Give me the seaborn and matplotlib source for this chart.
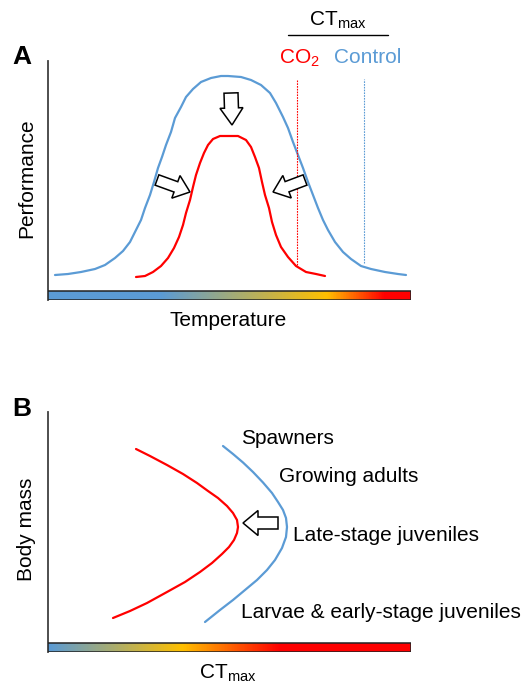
import numpy as np
import pandas as pd
import seaborn as sns
import matplotlib.pyplot as plt
from matplotlib.colors import LinearSegmentedColormap
from matplotlib.patches import FancyArrow, Rectangle

sns.set_theme(style="white")
plt.rcParams["font.family"] = ["Liberation Sans", "DejaVu Sans"]
plt.rcParams["mathtext.fontset"] = "custom"
plt.rcParams["mathtext.rm"] = "Liberation Sans"
plt.rcParams["text.color"] = "black"

BLUE = "#5B9BD5"
RED = "#FF0000"

W, H = 529, 685

# panel A: performance curves (temperature, performance), arbitrary units
temp_control = [7, 20, 33, 47, 57, 67, 75, 82, 87, 93, 97, 102, 106, 110,
                114, 118, 123, 127, 133, 138, 145, 153, 163, 173, 180,
                193, 203, 213, 222, 228, 235, 240, 245, 250, 255, 260, 265,
                270, 275, 280, 287, 295, 303, 313, 323, 337, 350, 358]
perf_control = [25, 26, 28, 31, 35, 42, 49, 58, 68, 80, 92, 105, 118, 132,
                143, 155, 168, 182, 193, 203, 211, 218, 222, 224, 224,
                223, 220, 215, 207, 197, 183, 172, 158, 145, 132, 118, 105,
                92, 80, 70, 58, 48, 41, 34, 31, 28, 26, 25]
temp_co2 = [88, 97, 105, 113, 120, 126, 131, 135, 138, 142, 145, 148, 152,
            156, 160, 165, 172, 180, 190, 198, 203, 207, 211, 214, 217,
            221, 224, 228, 233, 240, 248, 258, 268, 277]
perf_co2 = [23, 24, 28, 34, 42, 52, 63, 75, 87, 100, 113, 125, 137, 147,
            155, 161, 164, 164, 164, 160, 153, 143, 132, 118, 105, 92, 78,
            65, 53, 43, 34, 28, 26, 24]
ctmax_co2 = 249
ctmax_control = 316
ctmax_bottom = [35, 37]
ctmax_top = 221

# panel B: CT_max vs body mass
ct_co2 = [88, 102, 119, 135, 149, 160, 170, 179, 185, 189, 190, 189, 186,
          181, 174, 164, 152, 137, 119, 99, 82, 65]
mass_co2 = [203, 196, 187, 178, 169, 161, 154, 146, 139, 132, 125, 119,
            112, 105, 98, 89, 80, 70, 60, 49, 41, 34]
ct_control = [175, 185, 195, 205, 215, 224, 230, 235, 238, 239, 238, 234,
              227, 219, 209, 197, 185, 172, 157]
mass_control = [206, 198, 189.5, 180, 169.5, 159, 150, 142, 134, 125, 115,
                104, 92, 82, 72, 62, 52, 42, 30]
stages = ["Spawners", "Growing adults", "Late-stage juveniles",
          "Larvae & early-stage juveniles"]

df_a = pd.concat([
    pd.DataFrame({"temp": temp_control, "perf": perf_control, "grp": "Control"}),
    pd.DataFrame({"temp": temp_co2, "perf": perf_co2, "grp": "CO2"}),
])
df_b = pd.concat([
    pd.DataFrame({"ct": ct_control, "mass": mass_control, "grp": "Control"}),
    pd.DataFrame({"ct": ct_co2, "mass": mass_co2, "grp": "CO2"}),
])
pal = {"Control": BLUE, "CO2": RED}


def fx(px):
    return px / W


def fy(py):
    return 1 - py / H


fig = plt.figure(figsize=(W / 100, H / 100), dpi=100)
ax_a = fig.add_axes([fx(48), fy(300), 363 / W, 239 / H])
ax_b = fig.add_axes([fx(48), fy(652), 363 / W, 240 / H])


def setup(ax, ylim, stops):
    ax.set_xlim(0, 363)
    ax.set_ylim(0, ylim)
    ax.set_xticks([])
    ax.set_yticks([])
    for s in ["top", "right", "bottom"]:
        ax.spines[s].set_visible(False)
    ax.spines["left"].set_color("#404040")
    ax.spines["left"].set_linewidth(1.3)
    cmap = LinearSegmentedColormap.from_list("t", stops)
    ax.imshow(np.linspace(0, 1, 400)[None, :], cmap=cmap, aspect="auto",
              extent=(0, 363, 0, 9), zorder=3)
    ax.add_patch(Rectangle((0, 0), 363, 9, fill=False, ec="#222222",
                           lw=1.1, zorder=4))
    ax.set_xlabel("")
    ax.set_ylabel("")
    leg = ax.get_legend()
    if leg:
        leg.remove()


def arrow(ax, x, y, dx, dy, w, hw, hl):
    ax.add_patch(FancyArrow(x, y, dx, dy, width=w, head_width=hw,
                            head_length=hl, length_includes_head=True,
                            fc="white", ec="black", lw=1.1, zorder=5))


# ---- panel A
sns.lineplot(data=df_a, x="temp", y="perf", hue="grp", palette=pal,
             sort=False, estimator=None, lw=1.6, ax=ax_a)
ax_a.plot([ctmax_co2, ctmax_co2], [ctmax_bottom[0], ctmax_top], color=RED,
          lw=0.8, ls=(0, (1.5, 1)))
ax_a.plot([ctmax_control, ctmax_control], [ctmax_bottom[1], ctmax_top],
          color=BLUE, lw=0.8, ls=(0, (1.5, 1)))
setup(ax_a, 239, [(0, BLUE), (0.31, BLUE), (0.77, "#FFC000"),
                  (0.93, RED), (1, RED)])
arrow(ax_a, 183, 207, 1, -32, 14, 23, 17)
arrow(ax_a, 109, 120, 33, -12, 11, 24, 15)
arrow(ax_a, 257, 120, -32, -12, 11, 24, 15)

# ---- panel B
sns.lineplot(data=df_b, x="ct", y="mass", hue="grp", palette=pal,
             sort=False, estimator=None, lw=1.6, ax=ax_b)
setup(ax_b, 240, [(0, BLUE), (0.37, "#FFC000"), (0.64, RED), (1, RED)])
arrow(ax_b, 230, 129, -35, 0, 12, 25, 15)

# ---- text
fs = 15
fig.text(fx(22), fy(57), "A", fontsize=19, fontweight="bold",
         ha="center", va="center")
fig.text(fx(22), fy(409), "B", fontsize=19, fontweight="bold",
         ha="center", va="center")
fig.text(fx(27), fy(178), "Performance", fontsize=fs, rotation=90,
         ha="center", va="center")
fig.text(fx(27), fy(529), "Body mass", fontsize=fs, rotation=90,
         ha="center", va="center")
fig.text(fx(228), fy(326), "Temperature", fontsize=fs, ha="center",
         va="baseline")
fig.text(fx(228), fy(678), r"CT$_\mathregular{max}$", fontsize=fs,
         ha="center", va="baseline")
fig.text(fx(338), fy(25), r"CT$_\mathregular{max}$", fontsize=fs,
         ha="center", va="baseline")
fig.add_artist(plt.Line2D([fx(288), fx(388)], [fy(35), fy(35)],
                          color="black", lw=1))
fig.text(fx(279), fy(63), r"CO$_\mathregular{2}$", fontsize=fs, color=RED,
         ha="left", va="baseline")
fig.text(fx(334), fy(63), "Control", fontsize=fs, color=BLUE,
         ha="left", va="baseline")

stage_x = [241, 279, 293, 241]
stage_y = [444, 482, 541, 618]
for lab, sx, sy in zip(stages, stage_x, stage_y):
    fig.text(fx(sx), fy(sy), lab, fontsize=fs, ha="left", va="baseline")

fig.savefig("out.png", dpi=100, facecolor="white")
